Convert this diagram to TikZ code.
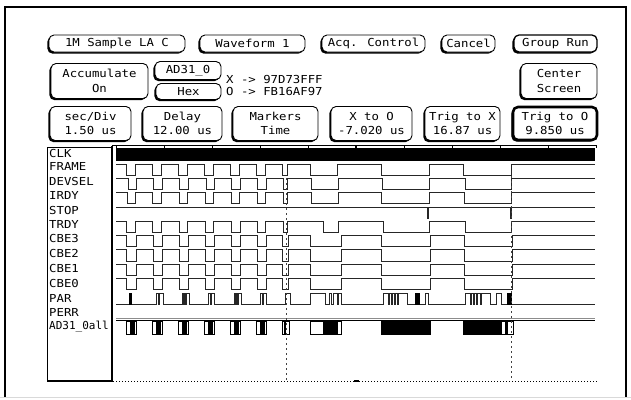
\documentclass[tikz,border=0pt]{standalone}
\usepackage{fontspec}
\newfontfamily\hpfont[FakeStretch=1.12]{DejaVu Sans Mono}
\newfontfamily\hpnarrow{DejaVu Sans Mono}
\usetikzlibrary{shadows}
\newcommand\sigwave[3]{\draw[wave] (116,#1) foreach \ta/\tb in {#3} { -- (\ta,#1) -- (\ta,#2) -- (\tb,#2) -- (\tb,#1) } -- (595,#1);}
\newcommand\adblock[4]{\draw[adline] (#1,321) rectangle (#2,334); \fill (#3,321) rectangle (#4,334);}
\begin{document}
\begin{tikzpicture}[x=1pt,y=-1pt,
  txt/.style={font=\hpfont\fontsize{11}{14.3}\selectfont},
  btn/.style={txt, draw=black, line width=0.9pt, rounded corners=5pt, fill=white, inner sep=0pt, align=center,
     drop shadow={shadow xshift=-1.6pt, shadow yshift=-1.6pt, opacity=1, fill=black}},
  lbl/.style={txt, anchor=west, inner sep=0pt},
  wave/.style={line width=0.9pt, black!85},
  adline/.style={line width=0.8pt, black},
  markerline/.style={line width=0.8pt, black!75, dash pattern=on 2pt off 3pt},
  tick/.style={line width=0.8pt}]
\useasboundingbox (0,0) rectangle (631,399);
\fill[white] (0,0) rectangle (631,399);
% outer frame
\draw[line width=2pt] (5,397) -- (5,7) -- (626,7) -- (626,397);
\draw[black!15, line width=1pt] (0,397.5) -- (631,397.5);

% row 1 buttons
\node[btn, minimum width=136pt, minimum height=17pt] (b1) at (117,43.5) {1M Sample LA C};
\node[btn, minimum width=105pt, minimum height=17pt] (b2) at (252.5,43.5) {Waveform 1};
\node[btn, minimum width=103pt, minimum height=17pt] (b3) at (373.5,43.5) {Acq. Control};
\node[btn, minimum width=53pt, minimum height=17pt] (b4) at (468.5,43.5) {Cancel};
\node[btn, line width=1.3pt, minimum width=83pt, minimum height=17pt] (b5) at (555.5,43.5) {Group Run};

% row 2
\node[btn, minimum width=97pt, minimum height=35pt] (acc) at (99.5,81) {Accumulate\\On};
\node[btn, minimum width=66pt, minimum height=18pt] (ad) at (188,70.5) {AD31\_0};
\node[btn, minimum width=65pt, minimum height=16pt] (hex) at (188.5,91.5) {Hex};
\node[lbl] (xval) at (226,79) {X -> 97D73FFF};
\node[lbl] (oval) at (226,91) {O -> FB16AF97};
\node[btn, minimum width=76pt, minimum height=35pt] (cs) at (559,81) {Center\\Screen};

% row 3
\node[btn, minimum width=81pt, minimum height=34pt] (sd) at (90.5,123.5) {sec/Div\\1.50 us};
\node[btn, minimum width=79pt, minimum height=34pt] (dl) at (182.5,123.5) {Delay\\12.00 us};
\node[btn, minimum width=85pt, minimum height=34pt] (mk) at (275.5,123.5) {Markers\\Time};
\node[btn, minimum width=81pt, minimum height=34pt] (xo) at (371.5,123.5) {X to O\\-7.020 us};
\node[btn, minimum width=75pt, minimum height=34pt] (tx) at (462.5,123.5) {Trig to X\\16.87 us};
\node[btn, line width=2.6pt, minimum width=84pt, minimum height=33pt] (to) at (555,123.5) {Trig to O\\9.850 us};

% label box and axes
\draw[line width=1pt] (47,147) -- (47,381);
\draw[line width=1pt] (47,147) -- (112,147);
\draw[line width=1.6pt] (112,146) -- (112,381.5);
\draw[line width=1.4pt] (47,381) -- (112,381);
\draw[tick] (112,145) -- (596,145);
\foreach \k in {0,...,10} { \draw[tick] (116+48*\k,145) -- (116+48*\k,148); }
\draw[line width=1.8pt] (356,145) -- (356,148);
\draw[line width=0.8pt, dash pattern=on 1pt off 2pt] (113,381) -- (597,381);
\draw[line width=1.6pt] (354,381) -- (359,381);

% labels
\node[lbl] (lclk) at (49,153.3) {CLK};
\node[lbl] (lframe) at (49,166.7) {FRAME};
\node[lbl] (ldev) at (49,181.5) {DEVSEL};
\node[lbl] (lirdy) at (49,195.5) {IRDY};
\node[lbl] (lstop) at (49,210) {STOP};
\node[lbl] (ltrdy) at (49,224) {TRDY};
\node[lbl] (lcbe3) at (49,238.5) {CBE3};
\node[lbl] (lcbe2) at (49,253) {CBE2};
\node[lbl] (lcbe1) at (49,268) {CBE1};
\node[lbl] (lcbe0) at (49,283) {CBE0};
\node[lbl] (lpar) at (49,298) {PAR};
\node[lbl] (lperr) at (49,312.3) {PERR};
\node[lbl, font=\hpnarrow\fontsize{11}{12}\selectfont] (lad) at (49,326.7) {AD31\_0all};

% CLK
\fill (116,148.3) rectangle (595,160.7);
% FRAME
\sigwave{164}{175}{126.5/135, 152.5/161, 178.5/187, 204.5/213, 230.5/239, 256.5/265, 282/287, 310/337.5, 381/429, 463.5/511.5}
% DEVSEL
\sigwave{178.3}{189.3}{128/136.5, 153.5/162.5, 179.5/188, 206/214.5, 231.5/240, 257.5/266.5, 283.5/287, 311.5/338.5, 382.5/429.5, 465/511.7}
% IRDY
\sigwave{192.6}{203.6}{127/135.7, 152.7/161.7, 179/187.5, 205/213.5, 231/239.5, 257.3/265.7, 283.3/287.7, 311/338.3, 381.7/429, 464.3/511.7}
% STOP
\sigwave{207}{218.5}{427.5/428.8, 510.5/511.5}
% TRDY
\sigwave{221.2}{232.2}{126.7/135.7, 152.7/161.7, 179/187.5, 205/213.5, 231/240, 257.3/265.7, 283.3/287, 323.3/338.3, 383/429, 465/511.7}
% CBE3..CBE0
\foreach \yh in {235.5, 249.8, 264.1, 278.4} {
  \sigwave{\yh}{\yh+11.3}{126.7/136.7, 153/162.5, 179/188.5, 205/214.5, 231/240.7, 257/266.7, 282.3/288.5, 310.7/341.7, 381.7/430.5, 464/512.5}
}
% PAR
\sigwave{304.5}{293.3}{156.5/158.5, 159.5/163, 182/183.5, 184.5/185.5, 186.5/189, 208.5/210, 211/214, 234/235.5, 236.5/237.5, 238.5/241, 260/262, 263/266, 285/290, 310.7/325, 329.3/331, 333.3/337.3, 338.5/341.7, 383.3/388, 389/391, 392/394, 395/397, 398/407, 425/428.3, 465/470, 471/473, 474/476, 477/480, 481/490, 496.7/501.7}
\fill (129.3,293.3) rectangle (132.3,304.5);
\fill (415,293.3) rectangle (420,304.5);
\fill (506.7,293.3) rectangle (511.5,304.5);
% PERR and bus top
\draw[black!45, line width=1.2pt] (116,318.5) -- (595,318.5);
\draw[line width=1pt] (116,320.8) -- (595,320.8);
% AD31_0all bus blocks
\foreach \bx in {126.5, 152.5, 178.5, 204.5, 230.5, 256.5} {
  \adblock{\bx}{\bx+10}{\bx+3}{\bx+8}
}
\adblock{282.3}{289}{284}{285.5}
\adblock{310.7}{341.7}{323.3}{338.3}
\adblock{381}{430}{381}{430}
\adblock{463.3}{513}{463.3}{501.7}
\fill (505,321) rectangle (508,334);

% markers
\draw[markerline] (286.7,178) -- (286.7,380);
\draw[markerline] (511,176) -- (511,380);
\end{tikzpicture}
\end{document}
